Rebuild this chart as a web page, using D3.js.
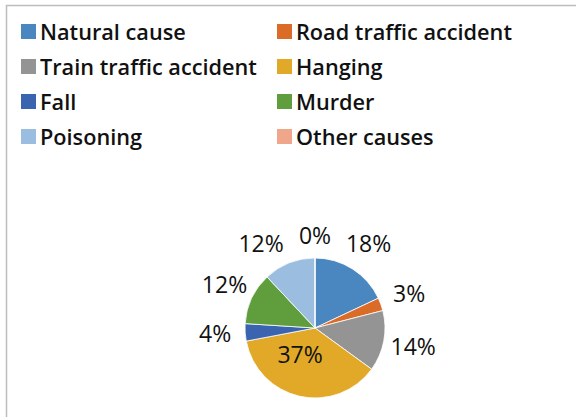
<!DOCTYPE html>
<html>
<head>
<meta charset="utf-8">
<script src="https://cdn.jsdelivr.net/npm/d3@7"></script>
<style>
  html, body { margin: 0; padding: 0; background: #fff; }
  svg { display: block; font-family: "Open Sans", Lato, sans-serif; }
</style>
</head>
<body>
<svg id="chart" width="576" height="417"></svg>
<script>
var causes = ["Natural cause", "Road traffic accident", "Train traffic accident", "Hanging",
    "Fall", "Murder", "Poisoning", "Other causes"];
var shares = [18, 3, 14, 37, 4, 12, 12, 0]; // percent
var colors = ["#4a86c0", "#db6c28", "#949494", "#e1a927", "#3a64b0", "#5f9d3d", "#9bbde0", "#f0a68b"];

var width = 576;
var height = 417;
var cx = 315, cy = 328, radius = 70;
var labelRadius = 100;

// small angle nudges (degrees) so crowded labels don't collide
var labelNudge = { "Poisoning": -11, "Other causes": 0 };

var svg = d3.select("#chart");

// chart frame
svg.append("rect")
    .attr("x", 6.5).attr("y", 5.5)
    .attr("width", width + 10).attr("height", height + 10)
    .attr("fill", "none")
    .attr("stroke", "#bdbdbd")
    .attr("stroke-width", 1.5);

// legend: two columns, four rows
var legend = svg.append("g").attr("class", "legend");
var items = legend.selectAll("g")
    .data(causes).enter().append("g")
    .attr("transform", function (d, i) {
        var col = i % 2, row = Math.floor(i / 2);
        return "translate(" + (col === 0 ? 21 : 277) + "," + (24 + row * 35) + ")";
    });
items.append("rect")
    .attr("width", 15).attr("height", 15)
    .attr("fill", function (d, i) { return colors[i]; });
items.append("text")
    .attr("x", 19).attr("y", 15.5)
    .attr("font-size", 21.7)
    .attr("font-weight", 600)
    .attr("fill", "#111")
    .text(function (d) { return d; });

// pie
var data = causes.map(function (c, i) { return { cause: c, value: shares[i], color: colors[i] }; });
var pie = d3.pie().sort(null).value(function (d) { return d.value; });
var arc = d3.arc().innerRadius(0).outerRadius(radius);
var arcs = pie(data);

var g = svg.append("g").attr("transform", "translate(" + cx + "," + cy + ")");
g.selectAll("path")
    .data(arcs).enter().append("path")
    .attr("d", arc)
    .attr("fill", function (d) { return d.data.color; })
    .attr("stroke", "#fff")
    .attr("stroke-width", 0.8);

g.selectAll("text")
    .data(arcs).enter().append("text")
    .attr("text-anchor", "middle")
    .attr("dy", "0.35em")
    .attr("font-size", 23)
    .attr("fill", "#111")
    .attr("transform", function (d) {
        var a = (d.startAngle + d.endAngle) / 2;
        var p;
        if (d.data.value > 30) {
            p = [Math.sin(a) * radius * 0.45 - 8, -Math.cos(a) * radius * 0.45 - 4];
        } else {
            a += (labelNudge[d.data.cause] || 0) * Math.PI / 180;
            var r = d.data.value === 0 ? labelRadius - 8 : labelRadius;
            p = [Math.sin(a) * r, -Math.cos(a) * r];
        }
        return "translate(" + p[0] + "," + p[1] + ")";
    })
    .text(function (d) { return d.data.value + "%"; });
</script>
</body>
</html>
